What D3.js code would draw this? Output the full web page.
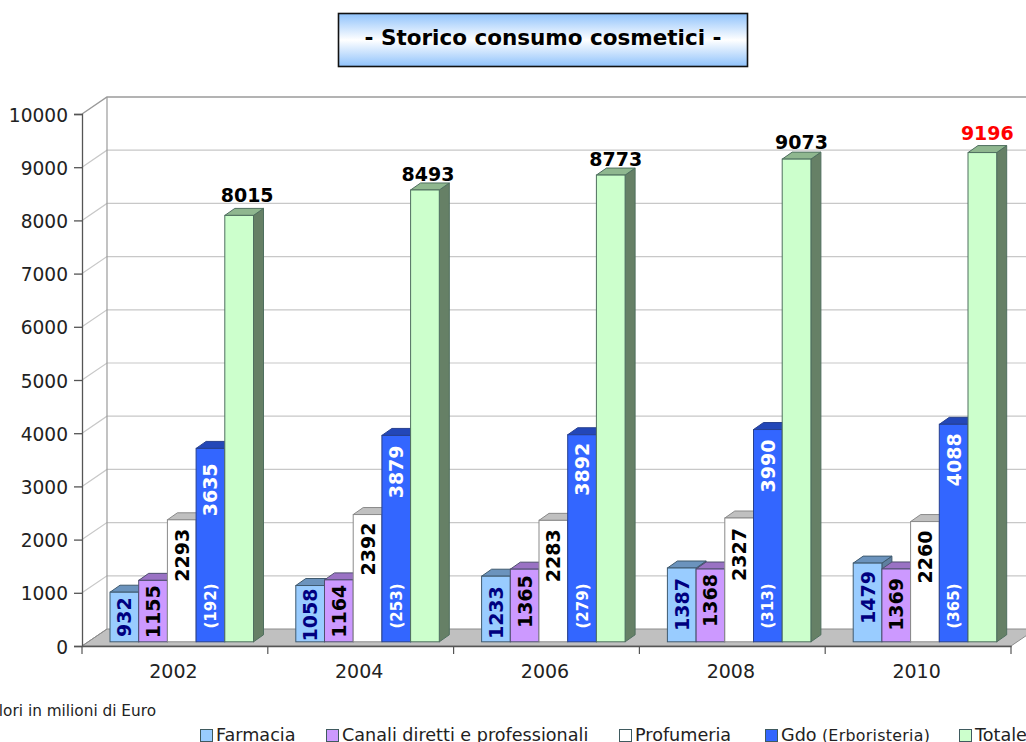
<!DOCTYPE html>
<html><head><meta charset="utf-8">
<script src="https://cdn.jsdelivr.net/npm/d3@7"></script>
<style>html,body{margin:0;padding:0;background:#fff;overflow:hidden}svg{display:block}text{font-family:"DejaVu Sans",sans-serif}</style>
</head><body><div id="c"></div>
<script>
const categories=["2002","2004","2006","2008","2010"];
const seriesNames=["Farmacia","Canali diretti e professionali","Profumeria","Gdo","Totale"];
const farmacia=[932,1058,1233,1387,1479];
const canali=[1155,1164,1365,1368,1369];
const profumeria=[2293,2392,2283,2327,2260];
const gdo=[3635,3879,3892,3990,4088];
const totale=[8015,8493,8773,9073,9196];
const erboristeria=[192,253,279,313,365];
const yTicks=[0,1000,2000,3000,4000,5000,6000,7000,8000,9000,10000];
const allSeries=[farmacia,canali,profumeria,gdo,totale];
const fronts=["#99ccff","#cc99ff","#ffffff","#3366ff","#ccffcc"];
const tops=["#6b93bd","#9a72c4","#c0c0c0","#2347b8","#8fb78f"];
const sides=["#5f7f9f","#7f609f","#909090","#1c3a99","#668066"];
const strokes=["#3f5a6f","#4f4f6f","#8a8a8a","#27408f","#4f6f5f"];
const labelCols=["#000080","#000000","#000000","#ffffff"];
const labelGap=[[5,3,10,10,8],[5,5,6,5,9],[9,8,9,10,9],[15,10,8,10,9]];
const totalNudgeX=[8,3,5,5,5];
const totalNudgeY=[13,9,9,10,13];

const W=1026,H=742,dy=17,bdx=10,bdy=7,lift=4.2;
const svg=d3.select("#c").append("svg").attr("width",W).attr("height",H);
const defs=svg.append("defs");
const g=defs.append("linearGradient").attr("id","tg").attr("x1",0).attr("x2",0).attr("y1",0).attr("y2",1);
[[0,"#8fc2fb"],[.5,"#ffffff"],[1,"#8fc2fb"]].forEach(d=>g.append("stop").attr("offset",d[0]).attr("stop-color",d[1]));

svg.append("rect").attr("x",338.5).attr("y",13.5).attr("width",409).attr("height",53).attr("fill","url(#tg)").attr("stroke","#111").attr("stroke-width",1.6);
svg.append("text").attr("x",543).attr("y",45).attr("text-anchor","middle").attr("font-size",21.5).attr("font-weight","bold").attr("fill","#000").text("- Storico consumo cosmetici -");

const x=d3.scaleBand().domain(categories).range([82,1011]);
const y=d3.scaleLinear().domain([0,10000]).range([646,114]);
const sx=d3.scaleBand().domain(d3.range(5)).range([28,171.5]);

const line=d3.line();
svg.append("path").attr("d",line([[82,646],[1011,646],[1036,629],[107,629]])+"Z").attr("fill","#c0c0c0").attr("stroke","#8c8c8c");
const gl=svg.append("g");
yTicks.filter(d=>d>0).forEach(t=>{
  gl.append("path").attr("d",line([[82,y(t)],[107,y(t)-dy],[W+10,y(t)-dy]])).attr("fill","none")
    .attr("stroke",t===10000?"#9a9a9a":"#c8c8c8").attr("stroke-width",t===10000?1.5:1.2);
});
gl.append("line").attr("x1",107).attr("x2",107).attr("y1",97).attr("y2",629).attr("stroke","#9a9a9a").attr("stroke-width",1.2);
gl.append("line").attr("x1",82).attr("x2",107).attr("y1",646).attr("y2",629).attr("stroke","#8c8c8c");

const ya=svg.append("g").attr("transform","translate(82,0)").call(d3.axisLeft(y).tickValues(yTicks).tickSize(8).tickPadding(6).tickFormat(d3.format("d")));
ya.selectAll("text").attr("font-size",18.6).attr("dy","0.38em").attr("fill","#222").style("font-family",'"DejaVu Sans",sans-serif');
ya.selectAll("line,path").attr("stroke","#555").attr("stroke-width",1.3);
const xa=svg.append("g").attr("transform","translate(0,646)").call(d3.axisBottom(x).tickSize(0).tickPadding(19));
xa.selectAll("text").attr("font-size",19).attr("fill","#222").style("font-family",'"DejaVu Sans",sans-serif');
xa.select("path").attr("stroke","#555").attr("stroke-width",1.3);
categories.forEach(c=>{xa.append("line").attr("x1",x(c)).attr("x2",x(c)).attr("y1",0).attr("y2",8).attr("stroke","#555").attr("stroke-width",1.2);});
xa.append("line").attr("x1",1011).attr("x2",1011).attr("y1",0).attr("y2",8).attr("stroke","#555").attr("stroke-width",1.2);
xa.selectAll(".tick text").attr("dx",-1.5);

categories.forEach((c,ci)=>{
  allSeries.forEach((vals,si)=>{
    const v=vals[ci],x0=x(c)+sx(si),x1=x0+sx.bandwidth(),t=y(v)-lift,b=y(0)-lift;
    const bar=svg.append("g").attr("stroke",strokes[si]).attr("stroke-width",1);
    bar.append("path").attr("d",line([[x1,t],[x1+bdx,t-bdy],[x1+bdx,b-bdy],[x1,b]])+"Z").attr("fill",sides[si]);
    bar.append("path").attr("d",line([[x0,t],[x0+bdx,t-bdy],[x1+bdx,t-bdy],[x1,t]])+"Z").attr("fill",tops[si]);
    bar.append("rect").attr("x",x0).attr("y",t).attr("width",x1-x0).attr("height",b-t).attr("fill",fronts[si]);
  });
});
categories.forEach((c,ci)=>{
  allSeries.slice(0,4).forEach((vals,si)=>{
    const v=vals[ci],cx=x(c)+sx(si)+sx.bandwidth()/2+7,ty=y(v)-lift+labelGap[si][ci];
    svg.append("text").attr("transform",`translate(${cx},${ty}) rotate(-90)`).attr("text-anchor","end")
      .attr("font-size",19).attr("font-weight","bold").attr("fill",labelCols[si]).text(v);
  });
  const ex=x(c)+sx(3)+sx.bandwidth()/2+5.5;
  svg.append("text").attr("transform",`translate(${ex},606) rotate(-90)`).attr("text-anchor","middle")
    .attr("font-size",15).attr("font-weight","bold").attr("fill","#fff").text(`(${erboristeria[ci]})`);
  const v=totale[ci],last=ci===categories.length-1;
  svg.append("text").attr("x",x(c)+sx(4)+sx.bandwidth()/2+totalNudgeX[ci]).attr("y",y(v)-lift-totalNudgeY[ci])
    .attr("text-anchor","middle").attr("font-size",19).attr("font-weight","bold").attr("fill",last?"#ff0000":"#000").text(v);
});

svg.append("text").attr("x",156).attr("y",716).attr("text-anchor","end").attr("font-size",15.3).attr("fill","#222").text("Valori in milioni di Euro");

const swatchX=[200,326,619,765,959];
seriesNames.forEach((n,i)=>{
  svg.append("rect").attr("x",swatchX[i]+.5).attr("y",729.5).attr("width",12).attr("height",12).attr("fill",fronts[i]).attr("stroke","#3f5a5f");
  const t=svg.append("text").attr("x",swatchX[i]+16).attr("y",741).attr("font-size",17.6).attr("fill","#222").text(n);
  if(n==="Gdo") t.append("tspan").attr("font-size",15.8).attr("letter-spacing",0.3).text(" (Erboristeria)");
});
</script></body></html>
